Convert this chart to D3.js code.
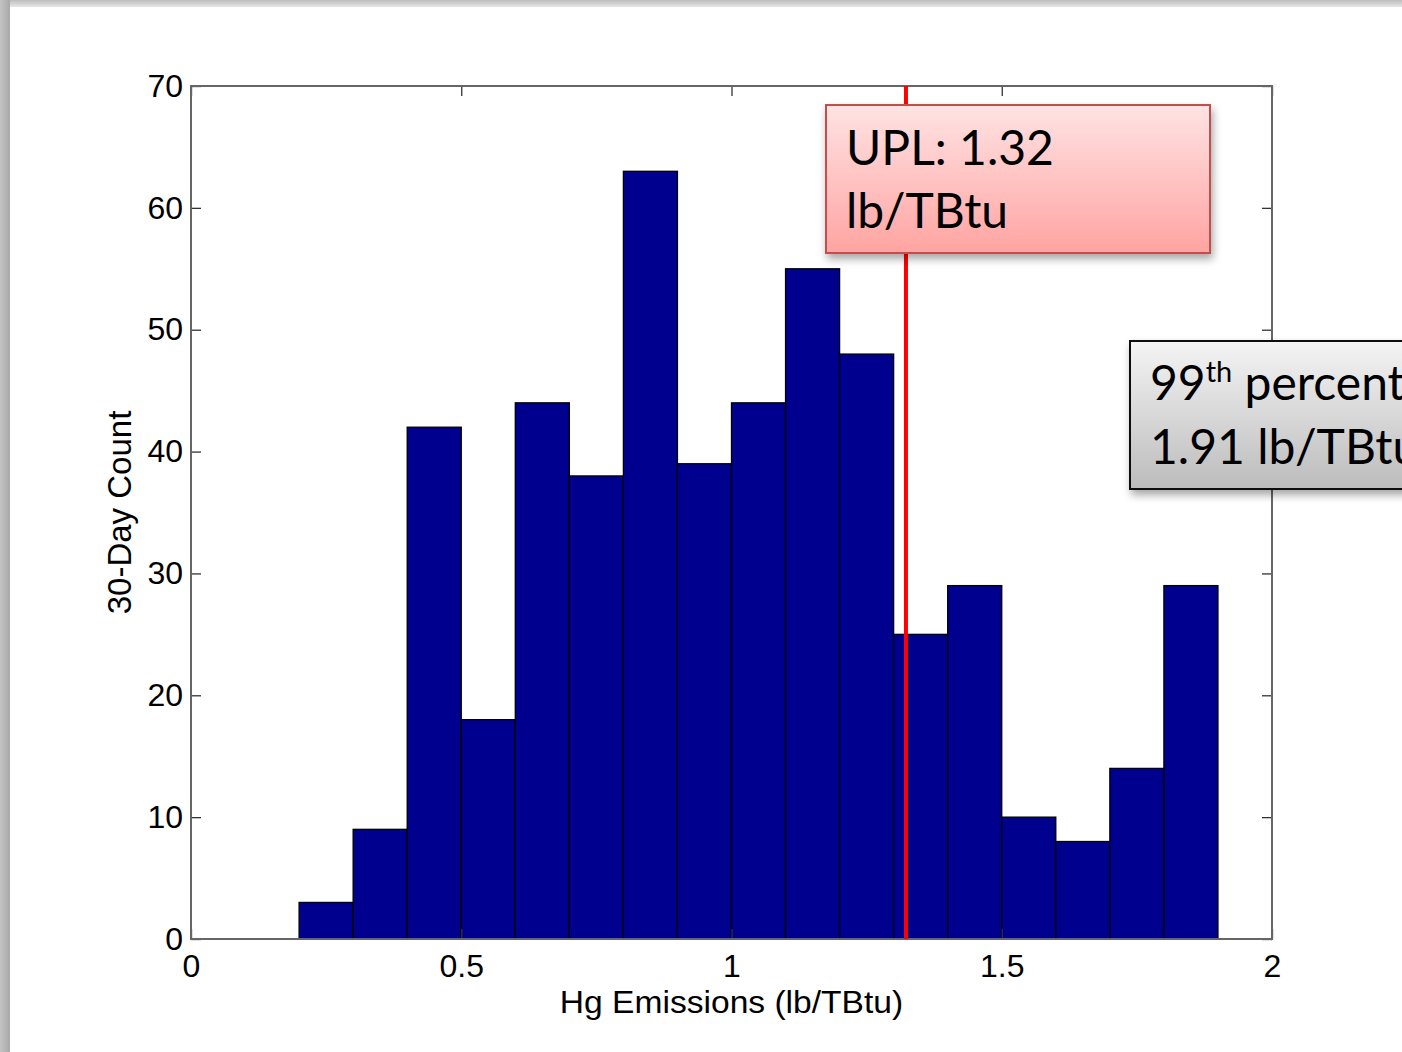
<!DOCTYPE html>
<html>
<head>
<meta charset="utf-8">
<script src="https://cdn.jsdelivr.net/npm/d3@7"></script>
<style>
  body { margin: 0; background: #fff; }
  svg { display: block; }
</style>
</head>
<body>
<svg></svg>
<script>
// histogram bins (lb/TBtu) and counts
const binStarts = [0.2, 0.3, 0.4, 0.5, 0.6, 0.7, 0.8, 0.9, 1.0, 1.1, 1.2, 1.3, 1.4, 1.5, 1.6, 1.7, 1.8];
const counts = [3, 9, 42, 18, 44, 38, 63, 39, 44, 55, 48, 25, 29, 10, 8, 14, 29];
const binWidth = 0.1;
const xTicks = [0, 0.5, 1, 1.5, 2];
const yTicks = [0, 10, 20, 30, 40, 50, 60, 70];
const uplValue = 1.32;

const [W, H] = [1402, 1052];
const margin = {left: 191, top: 86, right: 1402 - 1272, bottom: 1052 - 939};

const svg = d3.select('svg')
    .attr('width', W)
    .attr('height', H);

const defs = svg.append('defs');

// frame shadow at top/left
const gTop = defs.append('linearGradient').attr('id', 'shTop').attr('x1', 0).attr('y1', 0).attr('x2', 0).attr('y2', 1);
gTop.append('stop').attr('offset', '0%').attr('stop-color', '#bdbdbd');
gTop.append('stop').attr('offset', '100%').attr('stop-color', '#e6e6e6');
const gLeft = defs.append('linearGradient').attr('id', 'shLeft').attr('x1', 0).attr('y1', 0).attr('x2', 1).attr('y2', 0);
gLeft.append('stop').attr('offset', '0%').attr('stop-color', '#c4c4c4');
gLeft.append('stop').attr('offset', '100%').attr('stop-color', '#a8a8a8');

svg.append('rect').attr('x', 0).attr('y', 0).attr('width', W).attr('height', 7).attr('fill', 'url(#shTop)');
svg.append('rect').attr('x', 0).attr('y', 0).attr('width', 10).attr('height', H).attr('fill', 'url(#shLeft)');

const x = d3.scaleLinear().domain([0, 2]).range([margin.left, W - margin.right]);
const y = d3.scaleLinear().domain([0, 70]).range([H - margin.bottom, margin.top]);

const font = '"Liberation Sans", Arial, sans-serif';

// bars
svg.append('g')
    .selectAll('rect')
    .data(binStarts)
    .enter()
    .append('rect')
    .attr('x', (d) => x(d))
    .attr('y', (d, i) => y(counts[i]))
    .attr('width', (d) => x(d + binWidth) - x(d))
    .attr('height', (d, i) => y(0) - y(counts[i]))
    .attr('fill', '#00008f')
    .attr('stroke', '#000')
    .attr('stroke-width', 1.3);

// axes with inward ticks
const tickLen = 10;
const axisColor = '#666';
const addAxis = (axis, tx, ty, labels) => {
    const g = svg.append('g').attr('transform', `translate(${tx},${ty})`).call(axis);
    g.select('.domain').remove();
    g.selectAll('line').attr('stroke', '#333').attr('stroke-width', 1.3);
    g.selectAll('text')
        .style('font-family', font)
        .style('font-size', '32px')
        .attr('fill', labels ? '#000' : 'none');
    return g;
};

addAxis(d3.axisBottom(x).tickValues(xTicks).tickSize(-tickLen).tickPadding(15).tickFormat(d3.format('')), 0, y(0), true);
addAxis(d3.axisTop(x).tickValues(xTicks).tickSize(-tickLen).tickFormat(''), 0, y(70), false);
addAxis(d3.axisLeft(y).tickValues(yTicks).tickSize(-tickLen).tickPadding(8), x(0), 0, true);
addAxis(d3.axisRight(y).tickValues(yTicks).tickSize(-tickLen).tickFormat(''), x(2), 0, false);

// box
svg.append('rect')
    .attr('x', x(0)).attr('y', y(70))
    .attr('width', x(2) - x(0)).attr('height', y(0) - y(70))
    .attr('fill', 'none').attr('stroke', axisColor).attr('stroke-width', 2);

// axis titles
svg.append('text')
    .attr('transform', `translate(${(x(0) + x(2)) / 2},1013) scale(1.05,1)`)
    .attr('text-anchor', 'middle')
    .style('font-family', font).style('font-size', '32px')
    .text('Hg Emissions (lb/TBtu)');
svg.append('text')
    .attr('transform', `translate(131,${(y(0) + y(70)) / 2}) rotate(-90)`)
    .attr('text-anchor', 'middle')
    .style('font-family', font).style('font-size', '33px')
    .text('30-Day Count');

// UPL line
svg.append('line')
    .attr('x1', x(uplValue) + 1.5).attr('x2', x(uplValue) + 1.5)
    .attr('y1', y(70)).attr('y2', y(0))
    .attr('stroke', '#ff0000').attr('stroke-width', 4);

// callout boxes
const shadow = defs.append('filter').attr('id', 'drop').attr('x', '-10%').attr('y', '-10%').attr('width', '130%').attr('height', '140%');
shadow.append('feDropShadow').attr('dx', 2).attr('dy', 5).attr('stdDeviation', 4).attr('flood-color', '#000').attr('flood-opacity', 0.35);

const gRed = defs.append('linearGradient').attr('id', 'redFill').attr('x1', 0).attr('y1', 0).attr('x2', 0).attr('y2', 1);
gRed.append('stop').attr('offset', '0%').attr('stop-color', '#ffe3e3');
gRed.append('stop').attr('offset', '100%').attr('stop-color', '#ffa4a2');
const gGray = defs.append('linearGradient').attr('id', 'grayFill').attr('x1', 0).attr('y1', 0).attr('x2', 0).attr('y2', 1);
gGray.append('stop').attr('offset', '0%').attr('stop-color', '#f4f4f4');
gGray.append('stop').attr('offset', '100%').attr('stop-color', '#bcbcbc');

const calloutFont = 'Lato, "Open Sans", sans-serif';

svg.append('rect')
    .attr('x', 826).attr('y', 105).attr('width', 384).attr('height', 148)
    .attr('fill', 'url(#redFill)').attr('stroke', '#c0504d').attr('stroke-width', 2)
    .attr('filter', 'url(#drop)');
const upl = svg.append('text').style('font-family', calloutFont).style('font-size', '48px').attr('fill', '#000');
upl.append('tspan').attr('x', 846).attr('y', 165).text(`UPL: ${uplValue}`);
upl.append('tspan').attr('x', 846).attr('y', 228).text('lb/TBtu');

svg.append('rect')
    .attr('x', 1130).attr('y', 341).attr('width', 320).attr('height', 148)
    .attr('fill', 'url(#grayFill)').attr('stroke', '#111').attr('stroke-width', 2)
    .attr('filter', 'url(#drop)');
const pct = svg.append('text').style('font-family', calloutFont).style('font-size', '48px').attr('fill', '#000');
const l1 = pct.append('tspan').attr('x', 1150).attr('y', 400);
l1.append('tspan').text('99');
l1.append('tspan').attr('dy', -18).style('font-size', '29px').text('th');
l1.append('tspan').attr('dy', 18).text(' percentile');
pct.append('tspan').attr('x', 1150).attr('y', 464).text('1.91 lb/TBtu');
</script>
</body>
</html>
